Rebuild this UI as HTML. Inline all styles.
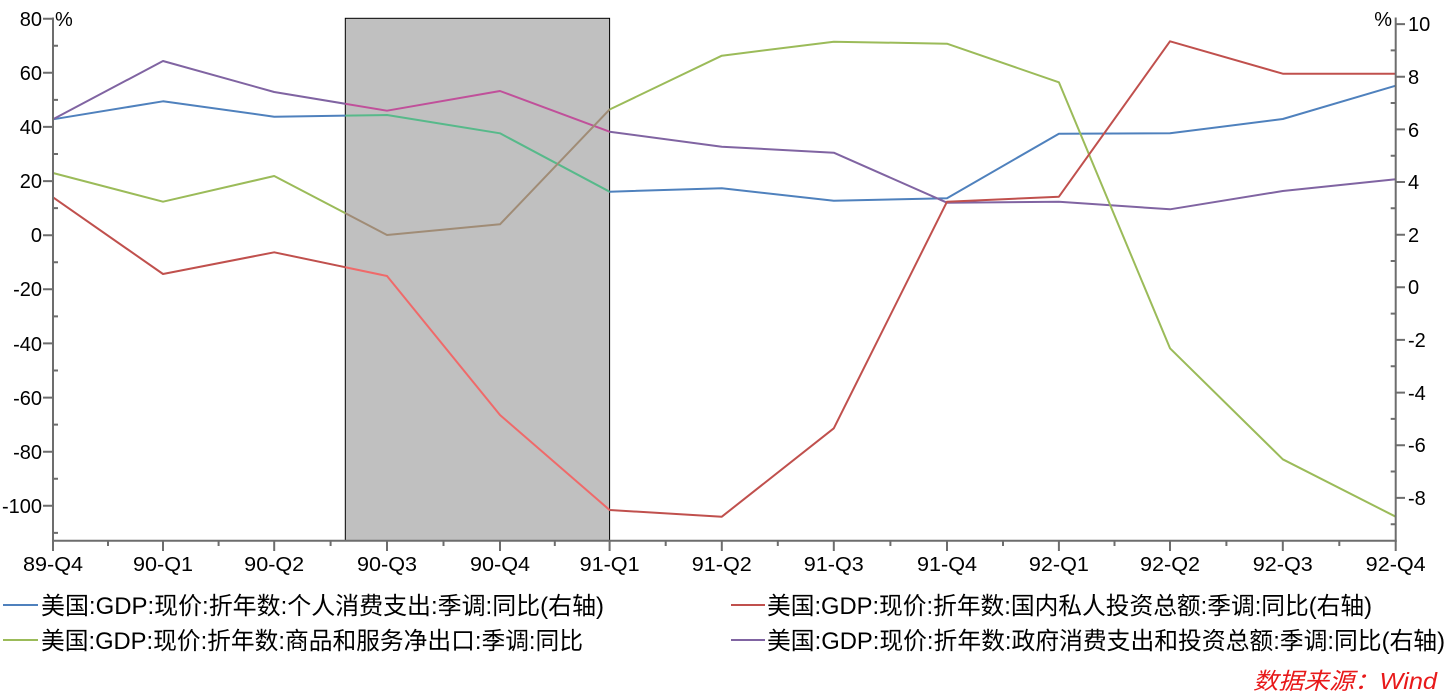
<!DOCTYPE html>
<html><head><meta charset="utf-8"><style>
html,body{margin:0;padding:0;background:#fff;}
svg{display:block;}
text{font-family:"Liberation Sans","Noto Sans CJK SC",sans-serif;fill:#000;}
</style></head><body>
<svg width="1456" height="694" viewBox="0 0 1456 694" xmlns="http://www.w3.org/2000/svg">
<defs>
<clipPath id="shade"><rect x="345.3" y="18.3" width="264.3" height="522.4"/></clipPath>
<clipPath id="noshade"><path d="M0 0H345.3V694H0Z M609.6 0H1456V694H609.6Z"/></clipPath>
</defs>
<rect x="345.3" y="18.3" width="264.3" height="522.4" fill="#c0c0c0" stroke="#000" stroke-width="1"/>

<g fill="none" stroke-width="2" stroke-linejoin="round">
<g clip-path="url(#noshade)">
<polyline stroke="#4f81bd" points="53,119.3 163,101.3 274.2,116.7 387,115 500,133.3 609.6,191.7 721.8,188.3 833.8,200.7 947,198.3 1058.9,133.7 1170,133.3 1282.8,119 1395.7,85.7"/>
<polyline stroke="#8064a2" points="53,119.3 163,61 274.2,92 387,110.7 500,91 609.6,131.7 721.8,146.7 833.8,152.7 947,202.7 1058.9,201.7 1170,209.3 1282.8,191 1395.7,179.3"/>
<polyline stroke="#9bbb59" points="53,173 163,201.7 274.2,176 387,235 500,224.3 609.6,109.5 721.8,55.7 833.8,41.7 947,43.7 1058.9,82.3 1170,348.3 1282.8,459.3 1395.7,516.7"/>
<polyline stroke="#c0504d" points="53,197.3 163,274 274.2,252.3 387,276 500,415 609.6,510 721.8,516.7 833.8,428.3 947,201.7 1058.9,196.7 1170,41.3 1282.8,73.7 1395.7,73.7"/>
</g>
<g clip-path="url(#shade)">
<polyline stroke="#57b98a" points="53,119.3 163,101.3 274.2,116.7 387,115 500,133.3 609.6,191.7 721.8,188.3"/>
<polyline stroke="#c0509a" points="53,119.3 163,61 274.2,92 387,110.7 500,91 609.6,131.7 721.8,146.7"/>
<polyline stroke="#a08c76" points="53,173 163,201.7 274.2,176 387,235 500,224.3 609.6,109.5 721.8,55.7"/>
<polyline stroke="#ef6a6a" points="53,197.3 163,274 274.2,252.3 387,276 500,415 609.6,510 721.8,516.7"/>
</g>
</g>

<g stroke="#6d6d6d" stroke-width="2" fill="none">
<line x1="53" y1="17.5" x2="53" y2="541.7"/>
<line x1="1395.7" y1="17.5" x2="1395.7" y2="541.7"/>
<line x1="52" y1="540.7" x2="1396.7" y2="540.7"/>
<path d="M43 18.7H53 M43 72.8H53 M43 126.9H53 M43 181.1H53 M43 235.2H53 M43 289.3H53 M43 343.4H53 M43 397.6H53 M43 451.7H53 M43 505.8H53"/>
<path d="M53 45.8H58 M53 99.9H58 M53 154H58 M53 208.1H58 M53 262.3H58 M53 316.4H58 M53 370.5H58 M53 424.6H58 M53 478.8H58 M53 532.9H58"/>
<path d="M1395.7 24.1H1405 M1395.7 76.7H1405 M1395.7 129.4H1405 M1395.7 182H1405 M1395.7 234.7H1405 M1395.7 287.3H1405 M1395.7 339.9H1405 M1395.7 392.6H1405 M1395.7 445.2H1405 M1395.7 497.9H1405"/>
<path d="M1390.7 50.4H1395.7 M1390.7 103H1395.7 M1390.7 155.7H1395.7 M1390.7 208.3H1395.7 M1390.7 261H1395.7 M1390.7 313.6H1395.7 M1390.7 366.2H1395.7 M1390.7 418.9H1395.7 M1390.7 471.5H1395.7 M1390.7 524.2H1395.7"/>
<path d="M53 540.7V551 M163 540.7V551 M274.2 540.7V551 M387 540.7V551 M500 540.7V551 M609.6 540.7V551 M721.8 540.7V551 M833.8 540.7V551 M947 540.7V551 M1058.9 540.7V551 M1170 540.7V551 M1282.8 540.7V551 M1395.7 540.7V551"/>
<path d="M108 540.7V546 M218.6 540.7V546 M330.6 540.7V546 M443.5 540.7V546 M554.8 540.7V546 M665.7 540.7V546 M777.8 540.7V546 M890.4 540.7V546 M1003 540.7V546 M1114.5 540.7V546 M1226.4 540.7V546 M1339.3 540.7V546"/>
</g>

<g font-size="20" text-anchor="end">
<text x="42" y="26">80</text>
<text x="42" y="80">60</text>
<text x="42" y="134">40</text>
<text x="42" y="188">20</text>
<text x="42" y="242">0</text>
<text x="42" y="296">-20</text>
<text x="42" y="351">-40</text>
<text x="42" y="405">-60</text>
<text x="42" y="459">-80</text>
<text x="42" y="513">-100</text>
</g>
<text x="55" y="26" font-size="20">%</text>
<text x="1392" y="26" font-size="20" text-anchor="end">%</text>
<g font-size="20" text-anchor="start">
<text x="1408" y="31">10</text>
<text x="1408" y="84">8</text>
<text x="1408" y="137">6</text>
<text x="1408" y="189">4</text>
<text x="1408" y="242">2</text>
<text x="1408" y="294">0</text>
<text x="1408" y="347">-2</text>
<text x="1408" y="400">-4</text>
<text x="1408" y="452">-6</text>
<text x="1408" y="505">-8</text>
</g>
<g font-size="20">
<text x="23" y="571" textLength="60" lengthAdjust="spacingAndGlyphs">89-Q4</text>
<text x="133" y="571" textLength="60" lengthAdjust="spacingAndGlyphs">90-Q1</text>
<text x="244.2" y="571" textLength="60" lengthAdjust="spacingAndGlyphs">90-Q2</text>
<text x="357" y="571" textLength="60" lengthAdjust="spacingAndGlyphs">90-Q3</text>
<text x="470" y="571" textLength="60" lengthAdjust="spacingAndGlyphs">90-Q4</text>
<text x="579.6" y="571" textLength="60" lengthAdjust="spacingAndGlyphs">91-Q1</text>
<text x="691.8" y="571" textLength="60" lengthAdjust="spacingAndGlyphs">91-Q2</text>
<text x="803.8" y="571" textLength="60" lengthAdjust="spacingAndGlyphs">91-Q3</text>
<text x="917" y="571" textLength="60" lengthAdjust="spacingAndGlyphs">91-Q4</text>
<text x="1028.9" y="571" textLength="60" lengthAdjust="spacingAndGlyphs">92-Q1</text>
<text x="1140" y="571" textLength="60" lengthAdjust="spacingAndGlyphs">92-Q2</text>
<text x="1252.8" y="571" textLength="60" lengthAdjust="spacingAndGlyphs">92-Q3</text>
<text x="1365.7" y="571" textLength="60" lengthAdjust="spacingAndGlyphs">92-Q4</text>
</g>

<g stroke-width="2">
<line x1="3" y1="605" x2="38" y2="605" stroke="#4f81bd"/>
<line x1="3" y1="640" x2="38" y2="640" stroke="#9bbb59"/>
<line x1="731" y1="605" x2="765" y2="605" stroke="#c0504d"/>
<line x1="731" y1="640" x2="765" y2="640" stroke="#8064a2"/>
</g>
<g font-size="24">
<text x="41" y="614" textLength="563" lengthAdjust="spacingAndGlyphs">美国:GDP:现价:折年数:个人消费支出:季调:同比(右轴)</text>
<text x="41" y="649" textLength="542" lengthAdjust="spacingAndGlyphs">美国:GDP:现价:折年数:商品和服务净出口:季调:同比</text>
<text x="767" y="614" textLength="605" lengthAdjust="spacingAndGlyphs">美国:GDP:现价:折年数:国内私人投资总额:季调:同比(右轴)</text>
<text x="767" y="649" textLength="678" lengthAdjust="spacingAndGlyphs">美国:GDP:现价:折年数:政府消费支出和投资总额:季调:同比(右轴)</text>
</g>
<text x="1253" y="689" font-size="23" font-style="italic" style="fill:#e8191a" textLength="184" lengthAdjust="spacingAndGlyphs">数据来源：Wind</text>
</svg>
</body></html>
